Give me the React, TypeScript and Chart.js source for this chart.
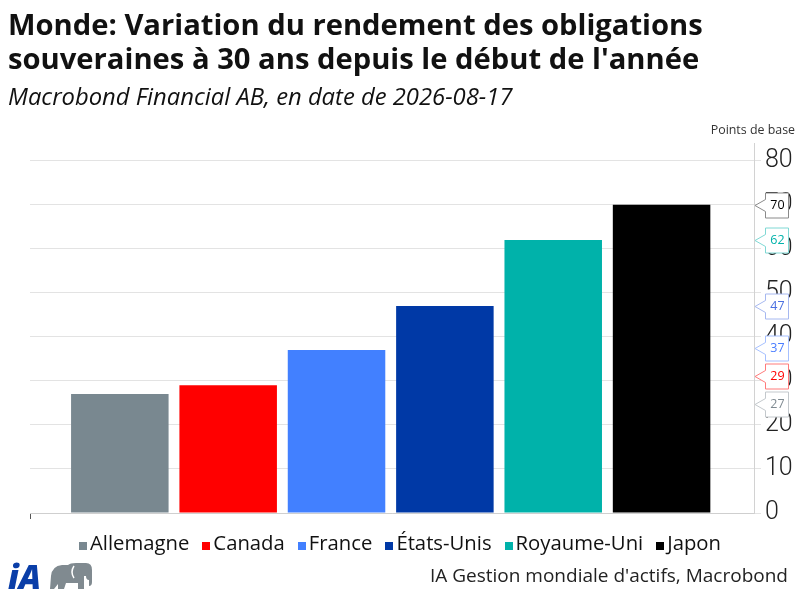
import React, { useEffect, useRef } from 'react';
import { Chart, registerables } from 'chart.js';

Chart.register(...registerables);

const categories = ['Allemagne', 'Canada', 'France', 'États-Unis', 'Royaume-Uni', 'Japon'];
const values = [27, 29, 37, 47, 62, 70];
const yTicks = [0, 10, 20, 30, 40, 50, 60, 70, 80];
const barColors = ['#798890', '#ff0000', '#4280ff', '#0039a6', '#00b2aa', '#000000'];
const flagTextColors = ['#7f8a91', '#ff0000', '#4a7dff', '#4a6fe0', '#00b2aa', '#000000'];
const flagBorderColors = ['#c3c8cc', '#ff7a7a', '#a6c0ff', '#a6b8f0', '#7fd8d4', '#8a8a8a'];

const TITLE_1 = 'Monde: Variation du rendement des obligations';
const TITLE_2 = "souveraines à 30 ans depuis le début de l'année";
const SUBTITLE = 'Macrobond Financial AB, en date de 2026-08-17';
const UNIT = 'Points de base';
const SOURCE = "IA Gestion mondiale d'actifs, Macrobond";

const FONT = "'Open Sans', 'Noto Sans', sans-serif";

const flagPlugin = {
  id: 'flags',
  afterDraw(chart: any) {
    const { ctx, chartArea } = chart;
    const yScale = chart.scales.y;
    const items = values.map((v, i) => ({ i, v, c: yScale.getPixelForValue(v) }));
    items.sort((a, b) => a.c - b.c);
    const minGap = 28;
    for (let iter = 0; iter < 50; iter++) {
      let moved = false;
      for (let k = 0; k < items.length - 1; k++) {
        const a = items[k];
        const b = items[k + 1];
        const d = b.c - a.c;
        if (d < minGap) {
          const push = (minGap - d) / 2;
          a.c -= push;
          b.c += push;
          moved = true;
        }
      }
      if (!moved) break;
    }
    const tipX = chartArea.right + 1;
    const left = chartArea.right + 11;
    const right = chartArea.right + 34;
    ctx.save();
    ctx.strokeStyle = '#555';
    ctx.lineWidth = 1;
    ctx.beginPath();
    ctx.moveTo(chartArea.left + 0.5, chartArea.bottom + 1);
    ctx.lineTo(chartArea.left + 0.5, chartArea.bottom + 6);
    ctx.stroke();
    for (const it of items) {
      const c = Math.round(it.c) + 0.5;
      const top = c - 12.5;
      const bottom = c + 12.5;
      ctx.beginPath();
      ctx.moveTo(tipX, c);
      ctx.lineTo(left + 0.5, c - 6);
      ctx.lineTo(left + 0.5, top);
      ctx.lineTo(right + 0.5, top);
      ctx.lineTo(right + 0.5, bottom);
      ctx.lineTo(left + 0.5, bottom);
      ctx.lineTo(left + 0.5, c + 6);
      ctx.closePath();
      ctx.fillStyle = '#ffffff';
      ctx.fill();
      ctx.strokeStyle = flagBorderColors[it.i];
      ctx.lineWidth = 1;
      ctx.stroke();
      ctx.fillStyle = flagTextColors[it.i];
      ctx.font = `12.5px ${FONT}`;
      ctx.textAlign = 'center';
      ctx.textBaseline = 'middle';
      ctx.fillText(String(it.v), (left + right) / 2 + 1, c);
    }
    ctx.restore();
  },
};

function ChartCanvas() {
  const ref = useRef<HTMLCanvasElement | null>(null);
  useEffect(() => {
    if (!ref.current) return;
    const chart = new Chart(ref.current, {
      type: 'bar',
      data: {
        datasets: [
          {
            label: 'Variation',
            data: values.map((v, i) => ({ x: i, y: v })),
            backgroundColor: barColors,
            borderWidth: 0,
            barPercentage: 0.9,
            categoryPercentage: 1,
          },
        ],
      },
      options: {
        animation: false,
        responsive: true,
        maintainAspectRatio: false,
        layout: { padding: { left: 30, right: 0, top: 143, bottom: 87 } },
        plugins: {
          legend: { display: false },
          tooltip: { enabled: false },
          title: { display: false },
        },
        scales: {
          x: {
            type: 'linear',
            offset: false,
            min: -0.829,
            max: 5.853,
            afterBuildTicks(scale: any) {
              scale.ticks = categories.map((_, i) => ({ value: i }));
            },
            grid: { display: false, offset: false },
            border: { display: true, color: '#cfcfcf', width: 1 },
            ticks: { display: false },
            afterFit(scale: any) {
              scale.height = 0;
            },
          },
          y: {
            position: 'right',
            min: 0,
            max: 84,
            afterBuildTicks(scale: any) {
              scale.ticks = yTicks.map((v) => ({ value: v }));
            },
            grid: {
              color: '#e3e3e3',
              lineWidth: 1,
              tickLength: 7,
              drawOnChartArea: true,
              drawTicks: true,
            },
            border: { display: true, color: '#d2d2d2', width: 1 },
            ticks: {
              padding: 4,
              color: '#222',
              font: { family: "Roboto, 'Open Sans', sans-serif", size: 25, weight: 300 as any },
            },
            afterFit(scale: any) {
              scale.width = 46;
            },
          },
        },
      },
      plugins: [flagPlugin],
    });
    return () => chart.destroy();
  }, []);
  return <canvas ref={ref} />;
}

function Logo() {
  return (
    <svg width="90" height="40" viewBox="0 0 90 40" style={{ position: 'absolute', left: 6, top: 556 }}>
      <text x="2" y="33" fontFamily="'Open Sans', sans-serif" fontWeight="800" fontStyle="italic" fontSize="33" fill="#0a3ea8">
        iA
      </text>
      <path
        d="M44 33 L45 20 Q46 10 56 9 L62 9 Q64 7 70 7 L80 7 Q86 7 86 14 L86 26 Q86 30 83 30 L83 24 Q80 24 80 20 L78 20 L78 33 L72 33 L72 27 L60 27 L58 33 L52 33 L52 28 L48 33 Z"
        fill="#808a90"
      />
      <path d="M68 10 Q64 16 68 22" stroke="#ffffff" strokeWidth="1.5" fill="none" />
    </svg>
  );
}

export default function App() {
  return (
    <div
      style={{
        position: 'fixed',
        left: 0,
        top: 0,
        width: 800,
        height: 600,
        background: '#ffffff',
        fontFamily: FONT,
        color: '#111',
        overflow: 'hidden',
      }}
    >
      <div style={{ position: 'absolute', left: 0, top: 0, width: 800, height: 600 }}>
        <ChartCanvas />
      </div>
      <div style={{ position: 'absolute', left: 8, top: 7, fontSize: 29.2, fontWeight: 700, lineHeight: '34px', whiteSpace: 'nowrap' }}>
        <div>{TITLE_1}</div>
        <div>{TITLE_2}</div>
      </div>
      <div style={{ position: 'absolute', left: 8, top: 80, fontSize: 23.8, fontStyle: 'italic', whiteSpace: 'nowrap' }}>
        {SUBTITLE}
      </div>
      <div style={{ position: 'absolute', right: 5, top: 121, fontSize: 12.4, color: '#333', whiteSpace: 'nowrap' }}>{UNIT}</div>
      <div
        style={{
          position: 'absolute',
          left: 0,
          top: 528,
          width: 800,
          display: 'flex',
          justifyContent: 'center',
          gap: 13,
          fontSize: 20.3,
          whiteSpace: 'nowrap',
        }}
      >
        {categories.map((c, i) => (
          <span key={c} style={{ display: 'inline-flex', alignItems: 'baseline' }}>
            <span style={{ display: 'inline-block', width: 8, height: 8, background: barColors[i], marginRight: 3 }} />
            {c}
          </span>
        ))}
      </div>
      <div style={{ position: 'absolute', right: 12, top: 562, fontSize: 19, color: '#222', whiteSpace: 'nowrap' }}>{SOURCE}</div>
      <Logo />
    </div>
  );
}
